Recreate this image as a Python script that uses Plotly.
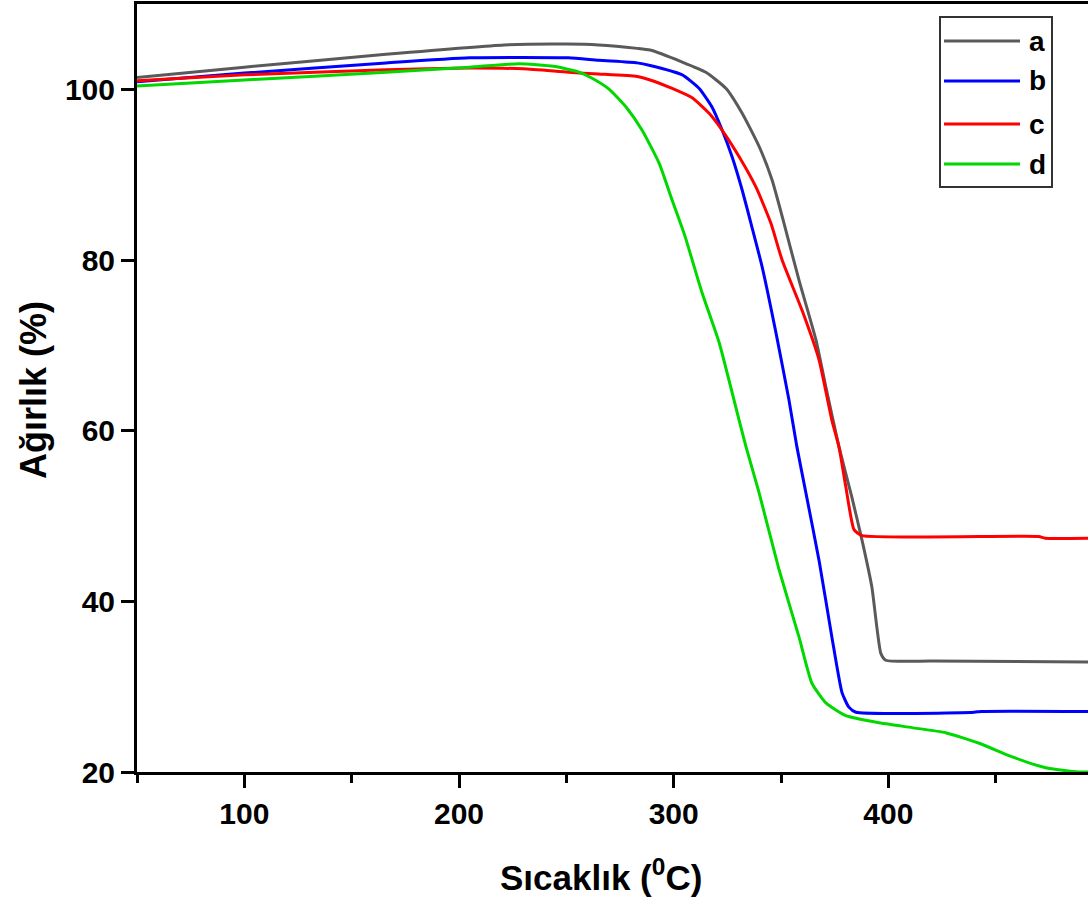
import plotly.graph_objects as go

# ---- data ----
a_x = [50, 100, 166, 221, 250, 265, 283, 289, 304, 315, 324.4, 331.9, 339.8, 345.8, 351.4, 358.4, 366.3, 370.9, 377, 383, 387.7, 392.3, 396.5, 398.8, 420, 493]
a_y = [101.4, 102.6, 104.1, 105.2, 105.3, 105.2, 104.8, 104.6, 103.2, 102.0, 100.1, 97.2, 93.3, 89.4, 84.3, 77.6, 70.6, 65.1, 58.1, 52.2, 47.2, 41.7, 33.9, 33.1, 33.0, 32.9]

b_x = [50, 100, 166, 205, 251, 265, 283, 289, 304, 311.9, 317.9, 322.6, 327.2, 331.9, 336, 341.2, 347.7, 353.7, 357.4, 361.6, 367.7, 373.7, 378.4, 381.6, 384.9, 440, 443, 493]
b_y = [100.9, 101.9, 103.1, 103.7, 103.7, 103.4, 103.1, 102.8, 101.7, 100.1, 97.9, 95.2, 92.1, 88.2, 84.3, 79.2, 71.4, 63.6, 58.1, 52.7, 44.8, 35.8, 29.3, 27.6, 27.0, 27.0, 27.1, 27.1]

c_x = [50, 100, 166, 205, 230, 251, 265, 283, 289, 299.3, 308.6, 316.5, 322.6, 330.5, 338.4, 345.3, 350.5, 359.8, 367.7, 373.7, 377, 380.2, 384, 387.7, 470, 473, 493]
c_y = [101.0, 101.7, 102.3, 102.5, 102.4, 102.0, 101.8, 101.5, 101.1, 100.1, 99.0, 97.2, 95.2, 92.1, 88.5, 84.3, 80.0, 74.1, 68.3, 61.2, 58.1, 53.4, 48.4, 47.7, 47.6, 47.4, 47.4]

d_x = [50, 100, 166, 205, 228, 244, 255, 262, 270, 277.9, 285.3, 293.3, 299.3, 305, 313.3, 321.2, 330.5, 333.7, 339.8, 349.1, 358.4, 364.4, 370.9, 380.2, 395, 411, 426.7, 442, 457.4, 473.3, 488.6, 493]
d_y = [100.4, 101.1, 102.0, 102.6, 103.0, 102.7, 102.1, 101.3, 100.0, 97.9, 95.2, 91.3, 87.0, 83.0, 76.1, 70.3, 61.2, 58.1, 52.7, 43.7, 35.8, 30.4, 28.1, 26.6, 25.8, 25.2, 24.6, 23.4, 21.8, 20.5, 20.0, 20.0]

series_names = ["a", "b", "c", "d"]
series_x = [a_x, b_x, c_x, d_x]
series_y = [a_y, b_y, c_y, d_y]
colors = ["#5a5a5a", "#0000ff", "#ff0000", "#00d800"]

x_ticks = [100, 200, 300, 400]
y_ticks = [20, 40, 60, 80, 100]

fig = go.Figure()
for name, xs, ys, col in zip(series_names, series_x, series_y, colors):
    fig.add_trace(go.Scatter(x=xs, y=ys, mode="lines", name=name,
                             line=dict(color=col, width=3, shape="spline", smoothing=0.5),
                             showlegend=False))

W, H = 1088, 899
L, R, T, B = 137, 0, 4, 127
pw, ph = W - L - R, H - T - B

def px(xp):
    return (xp - L) / pw

def py(yp):
    return (H - B - yp) / ph

fig.update_layout(
    width=W, height=H,
    margin=dict(l=L, r=R, t=T, b=B),
    plot_bgcolor="white", paper_bgcolor="white",
    font=dict(family="Liberation Sans, Arial, sans-serif", color="black", size=30),
    xaxis=dict(range=[50, 493], tickvals=x_ticks, ticks="outside", ticklen=13, tickwidth=3,
               tickcolor="black", showline=True, linecolor="black", linewidth=3, mirror=True,
               showgrid=False, zeroline=False,
               tickfont=dict(size=30, weight="bold"),
               minor=dict(tickvals=[50, 150, 250, 350, 450], ticks="outside", ticklen=8, tickwidth=3, tickcolor="black")),
    yaxis=dict(range=[20, 110], tickvals=y_ticks, ticks="outside", ticklen=13, tickwidth=3,
               tickcolor="black", showline=True, linecolor="black", linewidth=3, mirror=False,
               showgrid=False, zeroline=False,
               tickfont=dict(size=30, weight="bold")),
)

# axis titles
fig.add_annotation(text="<b>Sıcaklık (<sup>0</sup>C)</b>", xref="paper", yref="paper",
                   x=px(601), y=py(875), showarrow=False, font=dict(size=35),
                   xanchor="center", yanchor="middle")
fig.add_annotation(text="<b>Ağırlık (%)</b>", xref="paper", yref="paper",
                   x=px(33), y=py(390), showarrow=False, font=dict(size=36), textangle=-90,
                   xanchor="center", yanchor="middle")

# legend box (drawn)
fig.add_shape(type="rect", xref="paper", yref="paper", x0=px(940), x1=px(1052), y0=py(187), y1=py(17),
              line=dict(color="#333333", width=2), fillcolor="rgba(0,0,0,0)")
rows = [41, 81, 124, 164]
for name, col, r in zip(series_names, colors, rows):
    fig.add_shape(type="line", xref="paper", yref="paper", x0=px(944), x1=px(1020), y0=py(r), y1=py(r),
                  line=dict(color=col, width=3))
    fig.add_annotation(text="<b>%s</b>" % name, xref="paper", yref="paper", x=px(1027), y=py(r),
                       showarrow=False, font=dict(size=28), xanchor="left", yanchor="middle")

fig.write_html("out.html", config={"displayModeBar": False},
               post_script="document.body.style.margin='0';document.body.style.overflow='hidden';")
